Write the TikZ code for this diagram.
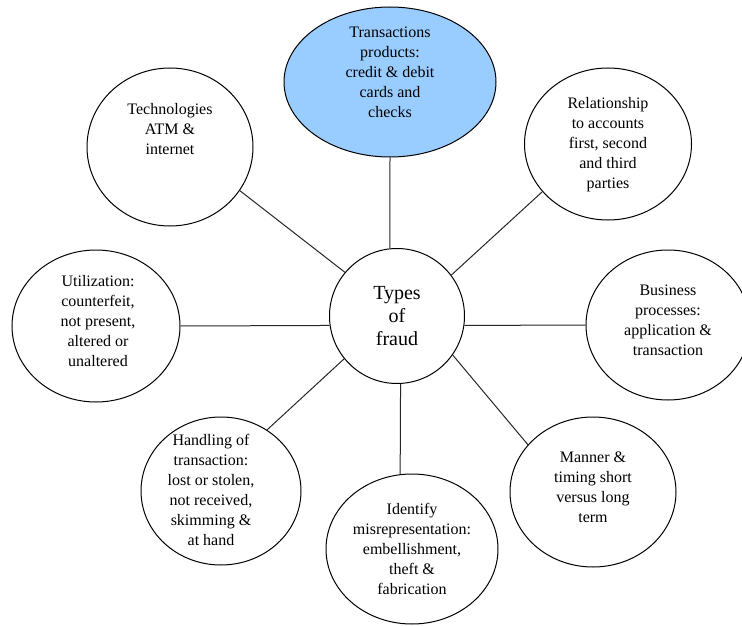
\documentclass[tikz,border=0pt]{standalone}
\usepackage{fontspec}
\setmainfont{Liberation Serif}
\newfontfamily\bubblefont{Liberation Serif}
\usetikzlibrary{shapes.geometric}
\definecolor{prodblue}{HTML}{99CCFF}

\begin{document}
\begin{tikzpicture}[
    x=1pt, y=-1pt,
    every node/.style={font=\bubblefont\fontsize{16}{20}\selectfont},
    bubble/.style={draw, ellipse, line width=1pt, inner sep=0pt},
    hub/.style={draw, circle, line width=1pt, inner sep=0pt, minimum size=135pt, align=center, font=\bubblefont\fontsize{20}{23}\selectfont},
    txt/.style={align=center, inner sep=0pt},
    link/.style={line width=1pt, draw=black!85}
]
\useasboundingbox (0,0) rectangle (742,626);

% hub
\node[hub] (fraud) at (397,316) {Types\\of\\fraud};

% surrounding bubbles
\node[bubble, fill=prodblue, minimum width=212pt, minimum height=150pt] (trans) at (390,82) {};
\node[bubble, minimum width=166pt, minimum height=158pt] (tech) at (170,147) {};
\node[bubble, minimum width=167pt, minimum height=152pt] (rel) at (608,144) {};
\node[bubble, minimum width=168pt, minimum height=152pt] (util) at (96,326) {};
\node[bubble, minimum width=164pt, minimum height=150pt] (bus) at (668,325) {};
\node[bubble, minimum width=160pt, minimum height=148pt] (hand) at (221,491) {};
\node[bubble, minimum width=172pt, minimum height=150pt] (ident) at (412,549) {};
\node[bubble, minimum width=166pt, minimum height=150pt] (manner) at (593,492) {};

% texts
\node[txt] (transtxt) at (390,72) {Transactions\\products:\\credit \& debit\\cards and\\checks};
\node[txt] (techtxt) at (170,129) {Technologies\\ATM \&\\internet};
\node[txt] (reltxt) at (608,145) {Relationship\\to accounts\\first, second\\and third\\parties};
\node[txt] (utiltxt) at (98,321) {Utilization:\\counterfeit,\\not present,\\altered or\\unaltered};
\node[txt] (bustxt) at (668,320) {Business\\processes:\\application \&\\transaction};
\node[txt] (handtxt) at (211,490) {Handling of\\transaction:\\lost or stolen,\\not received,\\skimming \&\\at hand};
\node[txt] (identtxt) at (412,549) {Identify\\misrepresentation:\\embellishment,\\theft \&\\fabrication};
\node[txt] (mannertxt) at (593,487) {Manner \&\\timing short\\versus long\\term};

% spokes
\draw[link] (trans.south) -- (fraud.96);
\draw[link] (tech.328) -- (fraud.140);
\draw[link] (rel.216) -- (fraud.37);
\draw[link] (util.east) -- (fraud.188);
\draw[link] (bus.west) -- (fraud.352);
\draw[link] (hand.53) -- (fraud.219);
\draw[link] (ident.99) -- (fraud.273);
\draw[link] (manner.144) -- (fraud.325);
\end{tikzpicture}
\end{document}
